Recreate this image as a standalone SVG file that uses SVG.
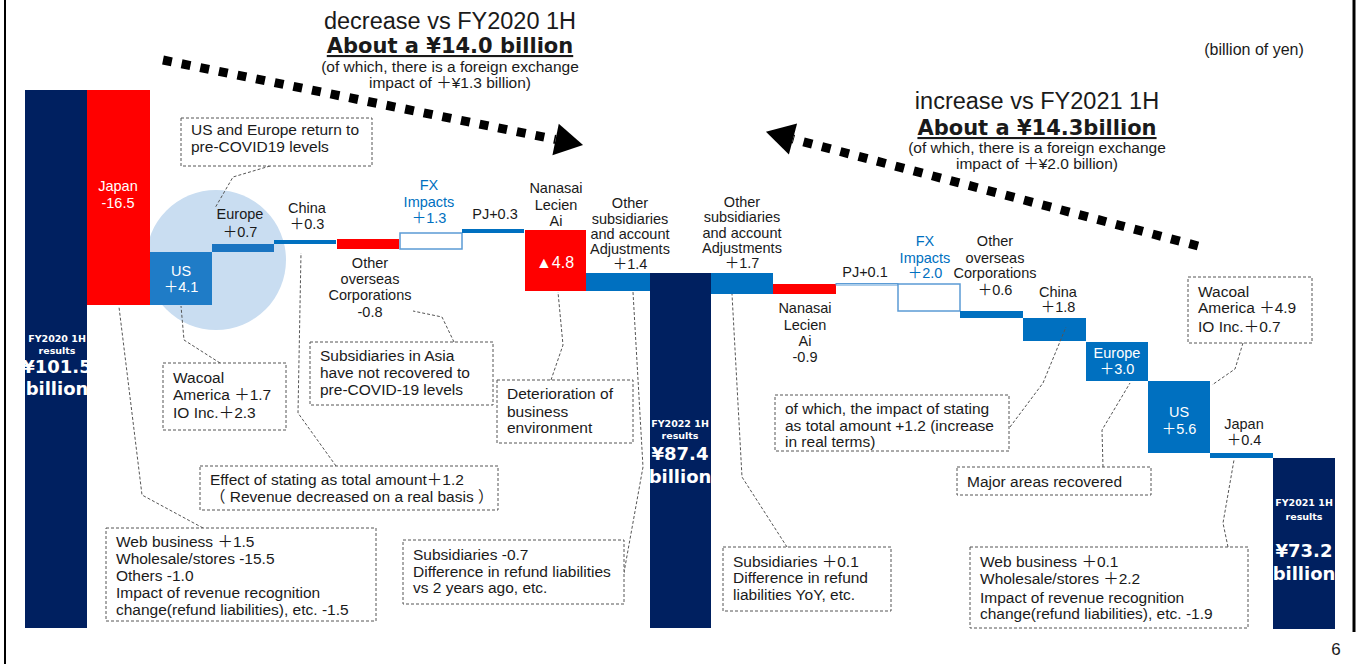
<svg xmlns="http://www.w3.org/2000/svg" width="1357" height="664" viewBox="0 0 1357 664">
<style>
text{font-family:"Liberation Sans","Noto Sans CJK JP",sans-serif;fill:#1a1a1a}
.lbl{font-size:14.5px;text-anchor:middle}
.wl{font-size:14.5px;text-anchor:middle;fill:#fff}
.fx{font-size:14.5px;text-anchor:middle;fill:#0070C0}
.co{font-size:15.5px}
.box{fill:#fff;stroke:#555;stroke-width:1;stroke-dasharray:3 2}
.lead{fill:none;stroke:#555;stroke-width:1;stroke-dasharray:3 2}
.navy{fill:#002060}
.red{fill:#FF0000}
.blue{fill:#0070C0}
.fxb{fill:#fff;stroke:#5B9BD5;stroke-width:1.5}
.tot{font-family:"DejaVu Sans",sans-serif;font-weight:bold;fill:#fff;text-anchor:middle}
.ts{font-size:9.5px}
.tb{font-size:18px}
.arrow{fill:none;stroke:#000;stroke-width:9;stroke-dasharray:9 10}
.t1{font-size:23.5px;text-anchor:middle}
.t2{font-family:"DejaVu Sans",sans-serif;font-weight:bold;font-size:21px;text-anchor:middle;text-decoration:underline}
.t3{font-size:15.5px;text-anchor:middle}
</style>
<defs>
<marker id="ah" markerUnits="userSpaceOnUse" markerWidth="30" markerHeight="34" viewBox="0 -17 30 34" refX="0" refY="0" orient="auto" overflow="visible">
<path d="M0,-16 L28,0 L0,16 z" fill="#000"/>
</marker>
</defs>
<rect x="0" y="0" width="1357" height="664" fill="#fff"/>
<g id="frame">
<line x1="5" y1="0" x2="5" y2="664" stroke="#000" stroke-width="2"/>
<line x1="1354" y1="0" x2="1354" y2="632" stroke="#000" stroke-width="3"/>
</g>
<g id="titles">
<text class="t1" x="450" y="29">decrease vs FY2020 1H</text>
<text class="t2" x="450" y="53">About a ¥14.0 billion</text>
<text class="t3" x="450" y="72">(of which, there is a foreign exchange</text>
<text class="t3" x="450" y="88">impact of ＋¥1.3 billion)</text>
<text class="t1" x="1037" y="109">increase vs FY2021 1H</text>
<text class="t2" x="1037" y="135">About a ¥14.3billion</text>
<text class="t3" x="1037" y="153">(of which, there is a foreign exchange</text>
<text class="t3" x="1037" y="169">impact of ＋¥2.0 billion)</text>
<text x="1254" y="55" style="font-size:16px;text-anchor:middle">(billion of yen)</text>
<text x="1336" y="655" style="font-size:17px;text-anchor:middle">6</text>
</g>
<circle id="highlight" cx="216" cy="260" r="70" fill="#C9DDF1"/>
<g id="fy2020">
<rect class="navy" x="25" y="90" width="62" height="538"/>
<text class="tot ts" x="57" y="342">FY2020 1H</text>
<text class="tot ts" x="57" y="354">results</text>
<text class="tot tb" x="57" y="373">¥101.5</text>
<text class="tot tb" x="57" y="395">billion</text>
</g>
<g id="japan1">
<rect class="red" x="87" y="90" width="63" height="215"/>
<text class="wl" x="118" y="191">Japan</text>
<text class="wl" x="118" y="208">-16.5</text>
</g>
<g id="us1">
<rect x="150" y="252" width="62" height="53" fill="#1F7CC7"/>
<text class="wl" x="181" y="276">US</text>
<text class="wl" x="181" y="292">＋4.1</text>
</g>
<g id="europe1">
<rect x="212" y="244" width="62" height="8" fill="#1A74C1"/>
<text class="lbl" x="240" y="219">Europe</text>
<text class="lbl" x="240" y="237">＋0.7</text>
</g>
<g id="china1">
<rect class="blue" x="274" y="240" width="62" height="4"/>
<text class="lbl" x="307" y="213">China</text>
<text class="lbl" x="307" y="229">＋0.3</text>
</g>
<g id="overseas1">
<rect class="red" x="337" y="239" width="62" height="10"/>
<text class="lbl" x="370" y="268">Other</text>
<text class="lbl" x="370" y="284">overseas</text>
<text class="lbl" x="370" y="300">Corporations</text>
<text class="lbl" x="370" y="317">-0.8</text>
</g>
<g id="fx1">
<rect class="fxb" x="400" y="233" width="62" height="16"/>
<text class="fx" x="429" y="190">FX</text>
<text class="fx" x="429" y="207">Impacts</text>
<text class="fx" x="429" y="223">＋1.3</text>
</g>
<g id="pj1">
<rect class="blue" x="462" y="229" width="62" height="4"/>
<text class="lbl" x="495" y="219">PJ+0.3</text>
</g>
<g id="nanasai1">
<rect class="red" x="525" y="230" width="61" height="61"/>
<text class="lbl" x="556" y="193">Nanasai</text>
<text class="lbl" x="556" y="210">Lecien</text>
<text class="lbl" x="556" y="226">Ai</text>
<text class="wl" x="555" y="268" style="font-size:16px">▲4.8</text>
</g>
<g id="othersubs1">
<rect class="blue" x="586" y="273" width="64" height="18"/>
<text class="lbl" x="630" y="208">Other</text>
<text class="lbl" x="630" y="224">subsidiaries</text>
<text class="lbl" x="630" y="239">and account</text>
<text class="lbl" x="630" y="254">Adjustments</text>
<text class="lbl" x="630" y="269">＋1.4</text>
</g>
<g id="fy2022">
<rect class="navy" x="650" y="273" width="61" height="355"/>
<text class="tot ts" x="680" y="427">FY2022 1H</text>
<text class="tot ts" x="680" y="439">results</text>
<text class="tot tb" x="680" y="460">¥87.4</text>
<text class="tot tb" x="680" y="483">billion</text>
</g>
<g id="othersubs2">
<rect class="blue" x="711" y="273" width="62" height="21"/>
<text class="lbl" x="742" y="207">Other</text>
<text class="lbl" x="742" y="222">subsidiaries</text>
<text class="lbl" x="742" y="238">and account</text>
<text class="lbl" x="742" y="253">Adjustments</text>
<text class="lbl" x="742" y="268">＋1.7</text>
</g>
<g id="nanasai2">
<rect class="red" x="773" y="284" width="63" height="10"/>
<text class="lbl" x="805" y="313">Nanasai</text>
<text class="lbl" x="805" y="330">Lecien</text>
<text class="lbl" x="805" y="346">Ai</text>
<text class="lbl" x="805" y="362">-0.9</text>
</g>
<g id="pj2">
<rect class="fxb" x="836" y="283.5" width="62" height="1.5" style="stroke-width:1"/>
<text class="lbl" x="865" y="277">PJ+0.1</text>
</g>
<g id="fx2">
<rect class="fxb" x="898" y="284" width="62" height="27"/>
<text class="fx" x="925" y="246">FX</text>
<text class="fx" x="925" y="263">Impacts</text>
<text class="fx" x="925" y="278">＋2.0</text>
</g>
<g id="overseas2">
<rect class="blue" x="960" y="311" width="63" height="7"/>
<text class="lbl" x="995" y="246">Other</text>
<text class="lbl" x="995" y="263">overseas</text>
<text class="lbl" x="995" y="278">Corporations</text>
<text class="lbl" x="995" y="295">＋0.6</text>
</g>
<g id="china2">
<rect class="blue" x="1023" y="318" width="63" height="23"/>
<text class="lbl" x="1058" y="297">China</text>
<text class="lbl" x="1058" y="312">＋1.8</text>
</g>
<g id="europe2">
<rect class="blue" x="1086" y="342" width="62" height="39"/>
<text class="wl" x="1117" y="358">Europe</text>
<text class="wl" x="1117" y="374">＋3.0</text>
</g>
<g id="us2">
<rect class="blue" x="1148" y="381" width="62" height="72"/>
<text class="wl" x="1179" y="417">US</text>
<text class="wl" x="1179" y="434">＋5.6</text>
</g>
<g id="japan2">
<rect class="blue" x="1210" y="453" width="63" height="5"/>
<text class="lbl" x="1244" y="429">Japan</text>
<text class="lbl" x="1244" y="445">＋0.4</text>
</g>
<g id="fy2021">
<rect class="navy" x="1273" y="458" width="62" height="171"/>
<text class="tot ts" x="1304" y="506">FY2021 1H</text>
<text class="tot ts" x="1304" y="520">results</text>
<text class="tot tb" x="1304" y="557">¥73.2</text>
<text class="tot tb" x="1304" y="580">billion</text>
</g>
<g id="connectors">
<line class="arrow" x1="163" y1="60" x2="555.6" y2="139.5" marker-end="url(#ah)"/>
<line class="arrow" x1="1198" y1="246" x2="793" y2="139" marker-end="url(#ah)"/>
<polyline class="lead" points="270,166 233,177 215,208"/>
<polyline class="lead" points="220,363 184,340 181,306"/>
<polyline class="lead" points="336,466 298,413 301,253"/>
<polyline class="lead" points="203,528 142,495 119,307"/>
<polyline class="lead" points="454,342 442,317 413,311"/>
<polyline class="lead" points="551,380 563,345 558,292"/>
<polyline class="lead" points="623,578 643,467 633,292"/>
<polyline class="lead" points="787,547 742,477 732,294"/>
<polyline class="lead" points="1010,427 1043,383 1066,327"/>
<polyline class="lead" points="1103,467 1102,430 1130,383"/>
<polyline class="lead" points="1243,343 1235,369 1212,385"/>
<polyline class="lead" points="1228,547 1223,523 1234,460"/>
</g>
<g id="note-us-europe">
<rect class="box" x="181" y="118" width="191" height="48"/>
<text class="co" x="191" y="135">US and Europe return to</text>
<text class="co" x="191" y="152">pre-COVID19 levels</text>
</g>
<g id="note-wacoal1">
<rect class="box" x="163" y="363" width="123" height="67"/>
<text class="co" x="173" y="383">Wacoal</text>
<text class="co" x="173" y="400">America ＋1.7</text>
<text class="co" x="173" y="418">IO Inc.＋2.3</text>
</g>
<g id="note-effect">
<rect class="box" x="200" y="466" width="298" height="44"/>
<text class="co" x="210" y="485">Effect of stating as total amount＋1.2</text>
<text class="co" x="210" y="502">（ Revenue decreased on a real basis ）</text>
</g>
<g id="note-web1">
<rect class="box" x="106" y="528" width="270" height="93"/>
<text class="co" x="116" y="547">Web business ＋1.5</text>
<text class="co" x="116" y="564">Wholesale/stores -15.5</text>
<text class="co" x="116" y="581">Others -1.0</text>
<text class="co" x="116" y="598">Impact of revenue recognition</text>
<text class="co" x="116" y="615">change(refund liabilities), etc. -1.5</text>
</g>
<g id="note-asia">
<rect class="box" x="310" y="342" width="183" height="63"/>
<text class="co" x="320" y="361">Subsidiaries in Asia</text>
<text class="co" x="320" y="378">have not recovered to</text>
<text class="co" x="320" y="395">pre-COVID-19 levels</text>
</g>
<g id="note-deterioration">
<rect class="box" x="497" y="380" width="136" height="63"/>
<text class="co" x="507" y="399">Deterioration of</text>
<text class="co" x="507" y="417">business</text>
<text class="co" x="507" y="433">environment</text>
</g>
<g id="note-subs1">
<rect class="box" x="403" y="540" width="221" height="64"/>
<text class="co" x="413" y="560">Subsidiaries -0.7</text>
<text class="co" x="413" y="577">Difference in refund liabilities</text>
<text class="co" x="413" y="593">vs 2 years ago, etc.</text>
</g>
<g id="note-subs2">
<rect class="box" x="723" y="547" width="168" height="64"/>
<text class="co" x="733" y="567">Subsidiaries ＋0.1</text>
<text class="co" x="733" y="583">Difference in refund</text>
<text class="co" x="733" y="600">liabilities YoY, etc.</text>
</g>
<g id="note-stating">
<rect class="box" x="775" y="395" width="234" height="56"/>
<text class="co" x="785" y="414">of which, the impact of stating</text>
<text class="co" x="785" y="431">as total amount +1.2 (increase</text>
<text class="co" x="785" y="447">in real terms)</text>
</g>
<g id="note-major">
<rect class="box" x="957" y="467" width="194" height="28"/>
<text class="co" x="967" y="487">Major areas recovered</text>
</g>
<g id="note-wacoal2">
<rect class="box" x="1188" y="277" width="124" height="66"/>
<text class="co" x="1198" y="297">Wacoal</text>
<text class="co" x="1198" y="313">America ＋4.9</text>
<text class="co" x="1198" y="332">IO Inc.＋0.7</text>
</g>
<g id="note-web2">
<rect class="box" x="970" y="547" width="278" height="81"/>
<text class="co" x="980" y="567">Web business ＋0.1</text>
<text class="co" x="980" y="584">Wholesale/stores ＋2.2</text>
<text class="co" x="980" y="603">Impact of revenue recognition</text>
<text class="co" x="980" y="619">change(refund liabilities), etc. -1.9</text>
</g>
</svg>
